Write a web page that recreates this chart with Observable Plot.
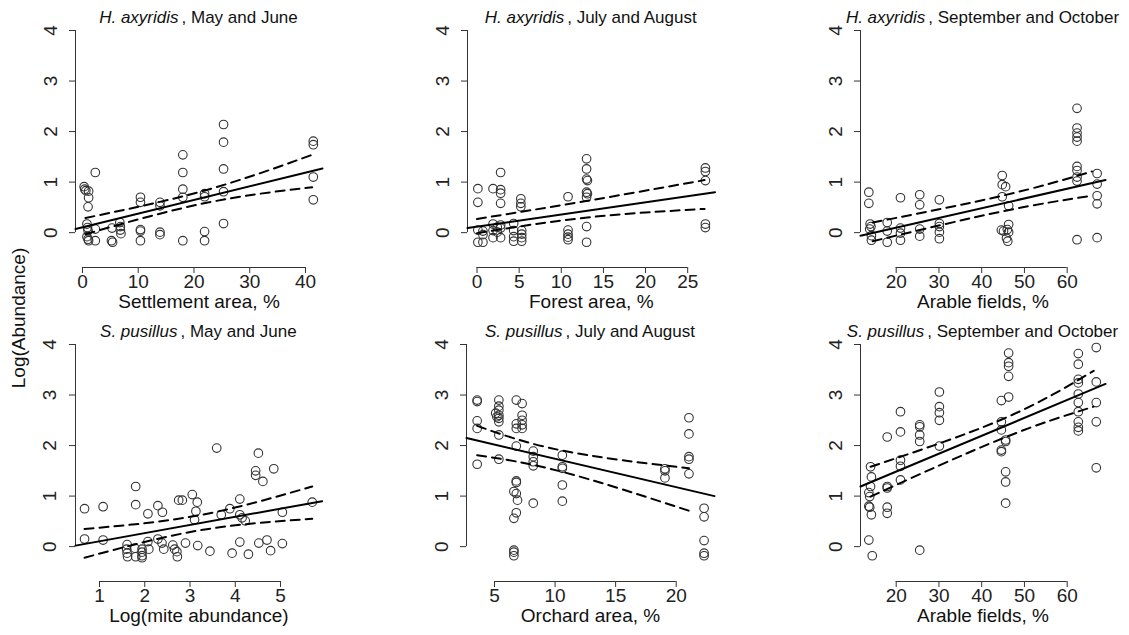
<!DOCTYPE html>
<html>
<head>
<meta charset="utf-8">
<script src="https://cdn.jsdelivr.net/npm/d3@7"></script>
<script src="https://cdn.jsdelivr.net/npm/@observablehq/plot@0.6"></script>
<style>
  html, body { margin: 0; padding: 0; background: #fff; }
  #fig { position: relative; width: 1129px; height: 635px; overflow: hidden; background: #fff; }
  #fig svg { position: absolute; max-width: none; }
</style>
</head>
<body>
<div id="fig"></div>
<script>
// ---------- tick labels ----------
const yTicks = [0, 1, 2, 3, 4];
const settlementTicks = [0, 10, 20, 30, 40];
const forestTicks = [0, 5, 10, 15, 20, 25];
const arableTicks = [20, 30, 40, 50, 60];
const miteTicks = [1, 2, 3, 4, 5];
const orchardTicks = [5, 10, 15, 20];

// ---------- titles / axis labels ----------
const speciesNames = ["H. axyridis", "H. axyridis", "H. axyridis", "S. pusillus", "S. pusillus", "S. pusillus"];
const periods = [", May and June", ", July and August", ", September and October", ", May and June", ", July and August", ", September and October"];
const xLabels = ["Settlement area, %", "Forest area, %", "Arable fields, %", "Log(mite abundance)", "Orchard area, %", "Arable fields, %"];
const yLabel = "Log(Abundance)";

// ---------- H. axyridis, May and June ----------
const haMayX = [0.3,0.4,0.6,1.1,1.1,1.0,0.8,0.9,1.0,0.8,1.0,1.1, 2.3,2.3,2.3, 5.2,5.4,5.3, 6.7,6.8,6.8,6.9, 10.4,10.4,10.4,10.4,10.4, 13.9,13.9,13.9,13.9, 18,18,18,18,18, 21.9,21.9,21.9,21.9, 25.3,25.3,25.3,25.3,25.3, 41.4,41.4,41.4,41.4];
const haMayY = [0.91,0.86,0.83,0.82,0.69,0.51,0.17,0.1,0.04,-0.08,-0.13,-0.16, 1.19,0.07,-0.16, -0.16,-0.19,0.09, 0.2,0.12,0.05,-0.02, 0.7,0.6,0.06,0.03,-0.16, 0.6,0.53,0.01,-0.04, 1.54,1.19,0.86,0.7,-0.16, 0.77,0.71,0.02,-0.16, 2.14,1.79,1.26,0.81,0.18, 1.81,1.74,1.1,0.65];
const haMayFitX = [-1.25, 43.05], haMayFitY = [0.07, 1.27];
const haMayUpX = [0.54, 21.8, 41.2], haMayUpY = [0.29, 0.83, 1.54];
const haMayLoX = [0.54, 21.8, 41.2], haMayLoY = [-0.03, 0.58, 0.9];

// ---------- H. axyridis, July and August ----------
const haJulX = [0.1,0.1,0.1,0.1, 0.7,0.7,0.7, 1.9,1.9,1.9,1.9, 2.8,2.8,2.8,2.8,2.8,2.8,2.8, 2.4,2.4, 4.35,4.35,4.35,4.35, 5.2,5.2,5.2,5.3,5.3,5.3,5.3, 10.8,10.8,10.8,10.8,10.8, 13,13,13,13.1,13,13.1,13,13,13, 27.1,27.1,27.1,27.1,27.1];
const haJulY = [0.87,0.6,0.05,-0.19, 0.03,-0.04,-0.19, 0.87,0.17,0.04,-0.1, 1.19,0.85,0.78,0.58,0.15,0.09,-0.1, 0.11,0.01, 0.18,0.04,-0.08,-0.17, 0.67,0.58,0.51,0.04,-0.03,-0.1,-0.17, 0.71,0.05,-0.03,-0.09,-0.14, 1.46,1.26,1.06,1.03,0.8,0.77,0.7,0.12,-0.19, 1.28,1.21,1.03,0.17,0.1];
const haJulFitX = [-1.13, 28.24], haJulFitY = [0.09, 0.8];
const haJulUpX = [0, 13.1, 27], haJulUpY = [0.27, 0.63, 1.04];
const haJulLoX = [0, 13.1, 27], haJulLoY = [-0.01, 0.3, 0.47];

// ---------- H. axyridis, September and October ----------
const haSepX = [13.6,13.6,13.9,14.1,13.8,14.2,14.2, 17.9,17.9,17.9, 21,21,21,21, 25.5,25.5,25.5,25.5, 30.1,30.1,30.1,30.1,30.1, 44.8,44.8,45.6,44.8,44.6,45.1, 46.3,46.3,46,46.3,45.8,46.1, 62.3,62.3,62.3,62.3,62.3,62.3,62.3,62.3,62.3,62.3, 67,67,67,67,67];
const haSepY = [0.8,0.58,0.17,0.12,0.07,-0.06,-0.15, 0.2,0.03,-0.19, 0.69,0.09,-0.01,-0.15, 0.75,0.55,0.07,-0.07, 0.65,0.18,0.12,0.01,-0.12, 1.13,0.95,0.91,0.71,0.05,0.03, 0.53,0.16,0.06,0.01,-0.11,-0.17, 2.46,2.07,1.97,1.89,1.81,1.31,1.23,1.1,1.02,-0.14, 1.17,0.96,0.73,0.57,-0.1];
const haSepFitX = [11.65, 68.96], haSepFitY = [-0.06, 1.04];
const haSepUpX = [14.5, 44.8, 65.8], haSepUpY = [0.2, 0.73, 1.21];
const haSepLoX = [14.5, 44.8, 65.8], haSepLoY = [-0.17, 0.42, 0.73];

// ---------- S. pusillus, May and June ----------
const spMayX = [0.67,0.67, 1.08,1.08, 1.61,1.6,1.61,1.62, 1.8,1.8,1.78,1.8, 1.94,1.94,1.94,1.94, 2.07,2.07,2.09, 2.29,2.29,2.39,2.38,2.42, 2.62,2.66,2.71,2.72, 2.75,2.83, 2.9, 3.05,3.16,3.13,3.1, 3.17, 3.44, 3.59, 3.69,3.88, 3.93, 4.1,4.1,4.15,4.22,4.1, 4.29, 4.45,4.45,4.51,4.61, 4.52,4.7,4.78, 4.85, 5.04,5.04, 5.7];
const spMayY = [0.75,0.15, 0.79,0.13, 0.04,-0.05,-0.13,-0.2, 1.19,0.83,-0.03,-0.2, -0.05,-0.11,-0.18,-0.22, 0.65,0.1,-0.05, 0.81,0.15,0.68,0.07,-0.05, 0.03,-0.05,-0.1,-0.2, 0.92,0.92, 0.07, 1.03,0.88,0.7,0.53, 0.02, -0.09, 1.95, 0.63,0.75, -0.13, 0.94,0.63,0.57,0.51,0.09, -0.15, 1.5,1.41,1.85,1.29, 0.07,0.13,-0.08, 1.54, 0.68,0.06, 0.88];
const spMayFitX = [0.47, 5.92], spMayFitY = [0.02, 0.9];
const spMayUpX = [0.67, 3.2, 5.7], spMayUpY = [0.35, 0.62, 1.19];
const spMayLoX = [0.67, 3.2, 5.7], spMayLoY = [-0.22, 0.32, 0.55];

// ---------- S. pusillus, July and August ----------
const spJulX = [3.57,3.57,3.57,3.57,3.57, 5.36,5.36,5.36,5.36,5.36,5.36,5.36,5.36, 5.1,5.2, 6.8,6.8,6.8,6.8,6.8,6.8,6.6,6.8,6.9,6.8,6.6,6.6,6.6,6.6, 7.28,7.28,7.28,7.28,7.28, 8.2,8.2,8.2,8.2,8.2, 10.6,10.6,10.6,10.6,10.6, 19.07,19.07,19.07, 21.05,21.05,21.05,21.05,21.05, 22.3,22.3,22.3,22.3,22.3];
const spJulY = [2.9,2.87,2.49,2.34,1.63, 2.9,2.78,2.7,2.6,2.54,2.47,2.21,1.73, 2.64,2.57, 2.9,2.43,2.34,1.99,1.3,1.27,1.09,1.05,0.92,0.67,0.56,-0.07,-0.11,-0.18, 2.83,2.6,2.5,2.41,2.34, 1.89,1.78,1.68,1.6,0.86, 1.81,1.58,1.55,1.22,0.9, 1.54,1.5,1.36, 2.55,2.23,1.78,1.73,1.44, 0.76,0.59,0.12,-0.13,-0.18];
const spJulFitX = [2.69, 23.16], spJulFitY = [2.15, 1.0];
const spJulUpX = [3.57, 10.6, 21.05], spJulUpY = [2.39, 1.9, 1.55];
const spJulLoX = [3.57, 10.6, 21.05], spJulLoY = [1.81, 1.48, 0.71];

// ---------- S. pusillus, September and October ----------
const spSepX = [14,14.2,14,13.6,13.8,13.6,13.8,14.2,13.6,14.4, 17.9,17.9,17.9,17.9,17.9, 21,21,21,21,21, 25.5,25.5,25.5,25.5,25.5, 30.1,30.1,30.1,30.1,30.1, 44.6,44.6,44.6,44.6,44.6, 45.6,45.6,45.6,45.6,45.6, 46.3,46.3,46.3,46.3,46.3, 62.6,62.6,62.6,62.6,62.6,62.6,62.6,62.6,62.6,62.6, 66.8,66.8,66.8,66.8,66.8];
const spSepY = [1.58,1.38,1.19,1.07,0.99,0.8,0.78,0.63,0.13,-0.18, 2.17,1.19,1.16,0.78,0.66, 2.67,2.27,1.71,1.59,1.32, 2.41,2.37,2.21,2.08,-0.07, 3.06,2.77,2.65,2.5,1.99, 2.89,2.47,2.31,1.91,1.88, 2.11,2.08,1.48,1.28,0.86, 3.83,3.64,3.57,3.37,2.96, 3.82,3.61,3.31,3.24,3.02,2.85,2.67,2.47,2.36,2.29, 3.94,3.26,2.85,2.47,1.56];
const spSepFitX = [11.65, 68.96], spSepFitY = [1.19, 3.22];
const spSepUpX = [14, 44.8, 66.2], spSepUpY = [1.58, 2.52, 3.48];
const spSepLoX = [14, 44.8, 66.2], spSepLoY = [0.99, 2.14, 2.77];

// ---------- layout ----------
const FONT = "'Liberation Sans', Arial, Helvetica, sans-serif";
const yDomain = [-0.69, 4];
const ML = 50, MR = 12, MT = 30, MB = 60;

const panels = [
  {xs: haMayX, ys: haMayY, fx: haMayFitX, fy: haMayFitY, ux: haMayUpX, uy: haMayUpY, lx: haMayLoX, ly: haMayLoY, ticks: settlementTicks, xDomain: [-1.25, 43.05], frame: [75, 322, 30, 267]},
  {xs: haJulX, ys: haJulY, fx: haJulFitX, fy: haJulFitY, ux: haJulUpX, uy: haJulUpY, lx: haJulLoX, ly: haJulLoY, ticks: forestTicks, xDomain: [-1.13, 28.24], frame: [466.5, 714, 30, 267]},
  {xs: haSepX, ys: haSepY, fx: haSepFitX, fy: haSepFitY, ux: haSepUpX, uy: haSepUpY, lx: haSepLoX, ly: haSepLoY, ticks: arableTicks, xDomain: [11.65, 68.96], frame: [860, 1105, 30, 267]},
  {xs: spMayX, ys: spMayY, fx: spMayFitX, fy: spMayFitY, ux: spMayUpX, uy: spMayUpY, lx: spMayLoX, ly: spMayLoY, ticks: miteTicks, xDomain: [0.47, 5.92], frame: [75, 321.7, 344, 581]},
  {xs: spJulX, ys: spJulY, fx: spJulFitX, fy: spJulFitY, ux: spJulUpX, uy: spJulUpY, lx: spJulLoX, ly: spJulLoY, ticks: orchardTicks, xDomain: [2.69, 23.16], frame: [466, 714, 344, 581]},
  {xs: spSepX, ys: spSepY, fx: spSepFitX, fy: spSepFitY, ux: spSepUpX, uy: spSepUpY, lx: spSepLoX, ly: spSepLoY, ticks: arableTicks, xDomain: [11.65, 68.96], frame: [860, 1105, 344, 581]}
];

const fig = document.getElementById("fig");

panels.forEach((p, i) => {
  const [fl, fr, ft, fb] = p.frame;
  const fw = fr - fl, fh = fb - ft;
  const svg = Plot.plot({
    width: fw + ML + MR,
    height: fh + MT + MB,
    marginLeft: ML, marginRight: MR, marginTop: MT, marginBottom: MB,
    style: {background: "transparent", fontFamily: FONT, fontSize: "19px", color: "#222", overflow: "visible"},
    x: {domain: p.xDomain},
    y: {domain: yDomain},
    marks: [
      Plot.ruleX([p.xDomain[0]], {y1: yTicks[0], y2: yTicks[yTicks.length - 1], stroke: "#333", strokeWidth: 1}),
      Plot.ruleY([yDomain[0]], {x1: p.ticks[0], x2: p.ticks[p.ticks.length - 1], stroke: "#333", strokeWidth: 1}),
      Plot.axisY({ticks: yTicks, tickRotate: -90, tickSize: 6, tickPadding: 13, label: null, tickFormat: d => String(d), fontSize: 19, stroke: "#333"}),
      Plot.axisX({ticks: p.ticks, tickSize: 6, tickPadding: 1, label: null, tickFormat: d => String(d), fontSize: 19, stroke: "#333"}),
      Plot.text([xLabels[i]], {frameAnchor: "bottom", lineAnchor: "middle", dy: 34, fontSize: 19, fill: "#111"}),
      Plot.dot(p.xs, {x: p.xs, y: p.ys, r: 4.3, stroke: "#333", strokeWidth: 1.1, fill: "none"}),
      Plot.line(p.fx, {x: p.fx, y: p.fy, stroke: "#000", strokeWidth: 2}),
      Plot.line(p.ux, {x: p.ux, y: p.uy, stroke: "#000", strokeWidth: 2, strokeDasharray: "9,6", curve: "natural"}),
      Plot.line(p.lx, {x: p.lx, y: p.ly, stroke: "#000", strokeWidth: 2, strokeDasharray: "9,6", curve: "natural"})
    ]
  });
  svg.style.left = (fl - ML) + "px";
  svg.style.top = (ft - MT) + "px";
  const t = d3.select(svg).append("text")
    .attr("x", ML + fw / 2)
    .attr("y", MT - 7)
    .attr("text-anchor", "middle")
    .style("font-family", FONT)
    .style("font-size", "17px")
    .attr("fill", "#111");
  t.append("tspan").style("font-style", "italic").text(speciesNames[i]);
  t.append("tspan").attr("dx", 3).text(periods[i]);
  fig.appendChild(svg);
});

// global y label
const lab = d3.select(fig).append("svg")
  .attr("width", 60).attr("height", 635)
  .style("left", "0px").style("top", "0px");
lab.append("text")
  .attr("transform", "translate(20,318) rotate(-90)")
  .attr("text-anchor", "middle")
  .attr("dominant-baseline", "middle")
  .style("font-family", FONT)
  .style("font-size", "19px")
  .attr("fill", "#111")
  .text(yLabel);
</script>
</body>
</html>
